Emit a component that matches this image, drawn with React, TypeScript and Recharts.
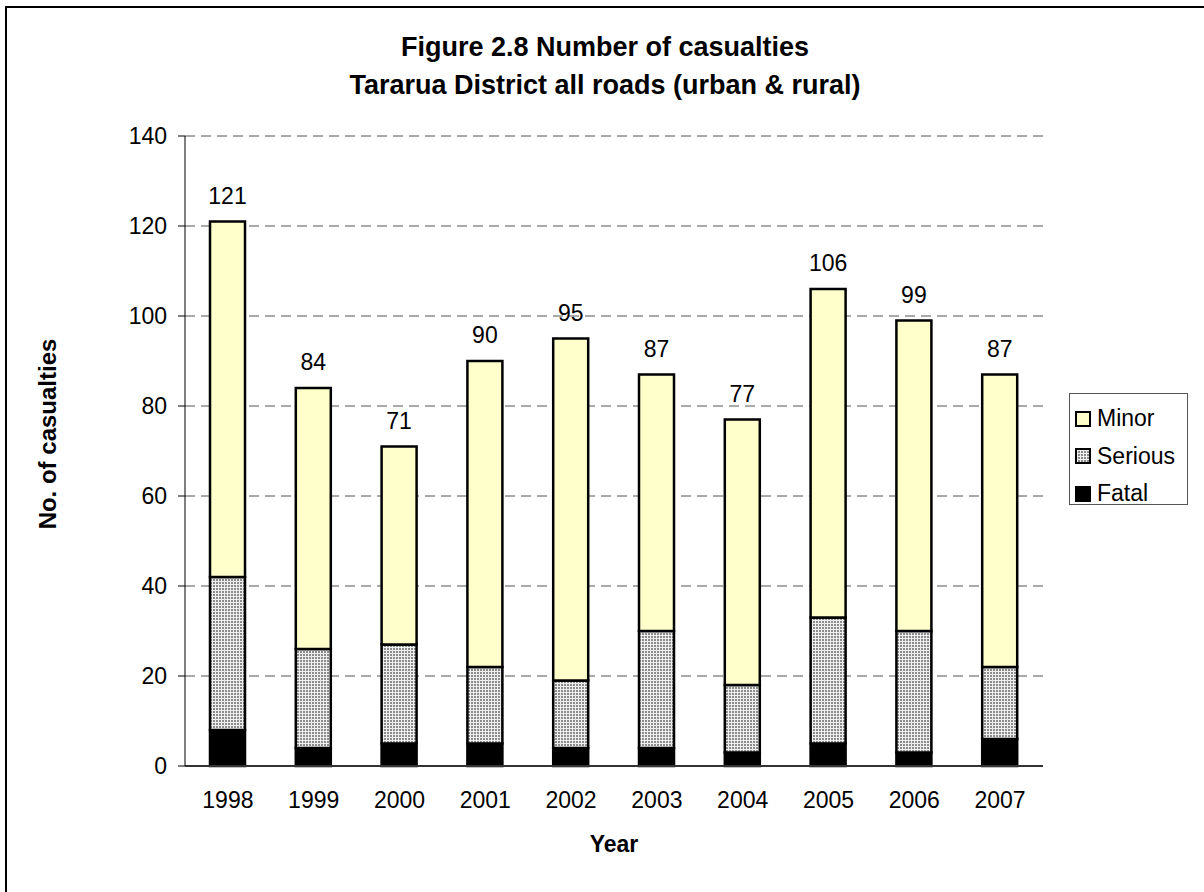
import React from 'react';
import { BarChart, Bar, XAxis, YAxis, CartesianGrid, Legend, LabelList } from 'recharts';

const FONT = '"Liberation Sans", Arial, sans-serif';

const YEARS = ['1998', '1999', '2000', '2001', '2002', '2003', '2004', '2005', '2006', '2007'];
const FATAL = [8, 4, 5, 5, 4, 4, 3, 5, 3, 6];
const SERIOUS = [34, 22, 22, 17, 15, 26, 15, 28, 27, 16];
const MINOR = [79, 58, 44, 68, 76, 57, 59, 73, 69, 65];
const Y_TICKS = [0, 20, 40, 60, 80, 100, 120, 140];

const LEGEND_ORDER = ['Minor', 'Serious', 'Fatal'];

const data = YEARS.map((year, i) => ({
  year,
  fatal: FATAL[i],
  serious: SERIOUS[i],
  minor: MINOR[i],
  total: FATAL[i] + SERIOUS[i] + MINOR[i],
}));

const LegendBox = ({ payload }: any) => {
  const items = [...(payload || [])].sort(
    (a: any, b: any) => LEGEND_ORDER.indexOf(a.value) - LEGEND_ORDER.indexOf(b.value)
  );
  return (
    <div
      style={{
        width: 119,
        height: 112,
        boxSizing: 'border-box',
        border: '1px solid #555',
        background: '#fff',
        paddingTop: 6,
        fontFamily: FONT,
        fontSize: 23,
      }}
    >
      {items.map((entry: any) => (
        <div key={entry.value} style={{ display: 'flex', alignItems: 'center', height: 37.5, paddingLeft: 5 }}>
          <svg width={16} height={16} style={{ marginRight: 6 }}>
            <rect x={1} y={1} width={14} height={14} fill={entry.color} stroke="#000" strokeWidth={2} />
          </svg>
          <span style={{ color: '#000' }}>{entry.value}</span>
        </div>
      ))}
    </div>
  );
};

export default function App() {
  return (
    <div
      style={{
        position: 'fixed',
        left: 0,
        top: 0,
        width: 1204,
        height: 892,
        overflow: 'hidden',
        background: '#fff',
        fontFamily: FONT,
      }}
    >
      <div
        style={{
          position: 'absolute',
          left: 5,
          top: 6,
          width: 1400,
          height: 1100,
          border: '2px solid #000',
        }}
      />
      <div style={{ position: 'absolute', left: 0, top: 0 }}>
        <BarChart
          width={1204}
          height={892}
          data={data}
          margin={{ top: 136, right: 161, bottom: 66, left: 105 }}
          barSize={35}
        >
          <defs>
            <pattern id="dots" width={3} height={3} patternUnits="userSpaceOnUse">
              <rect width={3} height={3} fill="#efefef" />
              <rect width={2} height={2} fill="#8c8c8c" />
            </pattern>
          </defs>
          <CartesianGrid vertical={false} stroke="#555" strokeDasharray="10 6" />
          <XAxis
            dataKey="year"
            height={60}
            tickLine={false}
            tickSize={0}
            tickMargin={26}
            axisLine={{ stroke: '#333', strokeWidth: 2 }}
            tick={{ fill: '#000', fontSize: 23, fontFamily: FONT }}
          />
          <YAxis
            width={80}
            domain={[0, 140]}
            ticks={Y_TICKS}
            interval={0}
            tickSize={7}
            tickMargin={11}
            tickLine={{ stroke: '#000' }}
            axisLine={{ stroke: '#000' }}
            tick={{ fill: '#000', fontSize: 23, fontFamily: FONT }}
          />
          <YAxis
            yAxisId="right"
            orientation="right"
            width={0}
            domain={[0, 140]}
            tick={false}
            tickLine={false}
            axisLine={{ stroke: '#666' }}
          />
          <Legend
            layout="vertical"
            align="center"
            verticalAlign="middle"
            content={<LegendBox />}
            wrapperStyle={{ left: 1069, top: 393, width: 119, height: 112 }}
          />
          <Bar dataKey="fatal" name="Fatal" stackId="a" fill="#000" stroke="#000" strokeWidth={2.5} isAnimationActive={false} />
          <Bar dataKey="serious" name="Serious" stackId="a" fill="url(#dots)" stroke="#000" strokeWidth={2.5} isAnimationActive={false} />
          <Bar dataKey="minor" name="Minor" stackId="a" fill="#ffffcc" stroke="#000" strokeWidth={2.5} isAnimationActive={false}>
            <LabelList dataKey="total" position="top" offset={18} fill="#000" fontSize={23} fontFamily={FONT} />
          </Bar>
        </BarChart>
      </div>
      <div
        style={{
          position: 'absolute',
          left: 0,
          width: 1210,
          top: 34,
          textAlign: 'center',
          fontWeight: 'bold',
          fontSize: 27,
          lineHeight: '27px',
          whiteSpace: 'nowrap',
        }}
      >
        Figure 2.8 Number of casualties
      </div>
      <div
        style={{
          position: 'absolute',
          left: 0,
          width: 1210,
          top: 72,
          textAlign: 'center',
          fontWeight: 'bold',
          fontSize: 27,
          lineHeight: '27px',
          whiteSpace: 'nowrap',
        }}
      >
        Tararua District all roads (urban &amp; rural)
      </div>
      <div
        style={{
          position: 'absolute',
          left: 48,
          top: 434,
          transform: 'translate(-50%, -50%) rotate(-90deg)',
          fontWeight: 'bold',
          fontSize: 24,
          whiteSpace: 'nowrap',
        }}
      >
        No. of casualties
      </div>
      <div
        style={{
          position: 'absolute',
          left: 514,
          width: 200,
          top: 833,
          textAlign: 'center',
          fontWeight: 'bold',
          fontSize: 23,
          lineHeight: '23px',
        }}
      >
        Year
      </div>
    </div>
  );
}
